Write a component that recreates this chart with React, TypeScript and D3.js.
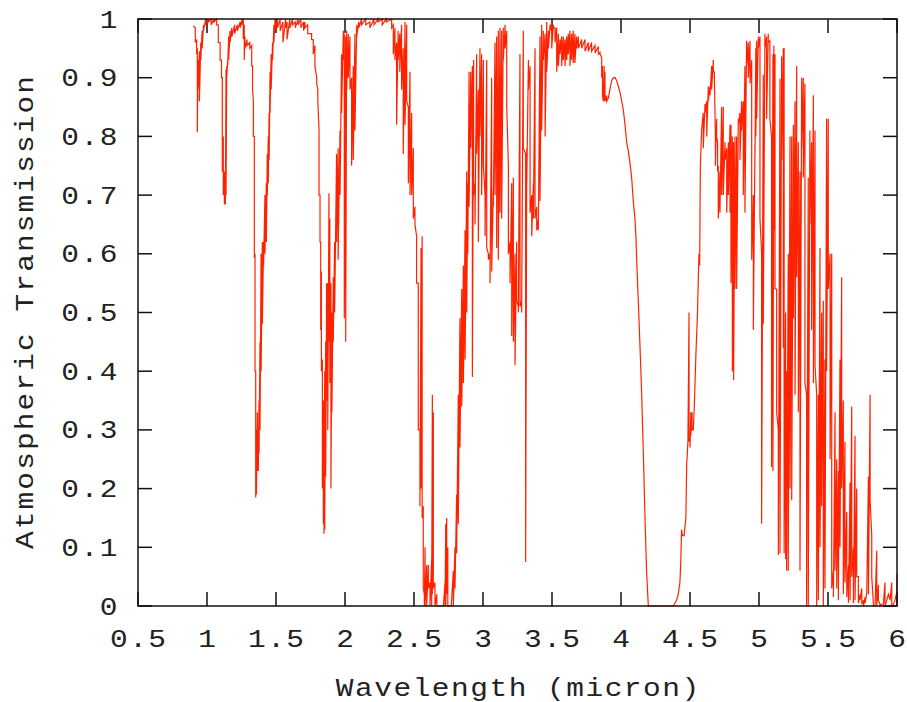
import React from "react";
import * as d3 from "d3";

// [wavelength (micron), max transmission, min transmission] per sample
const band1: [number, number, number][] = [
  [0.901, 0.988, 0.988], [0.915, 0.985, 0.96], [0.925, 0.965, 0.94], [0.93, 0.95, 0.807],
  [0.935, 0.93, 0.88], [0.945, 0.945, 0.86], [0.955, 0.96, 0.93], [0.965, 0.98, 0.95],
  [0.975, 0.99, 0.98], [0.99, 1.0, 0.99], [1.01, 1.0, 0.995], [1.03, 1.0, 0.99],
  [1.05, 1.0, 0.995], [1.07, 1.0, 0.99], [1.082, 0.99, 0.96], [1.095, 0.96, 0.93],
  [1.105, 0.93, 0.9], [1.111, 0.9, 0.74], [1.118, 0.8, 0.7], [1.126, 0.74, 0.684],
  [1.133, 0.72, 0.684], [1.138, 0.914, 0.7], [1.143, 0.92, 0.9], [1.15, 0.93, 0.92],
  [1.157, 0.97, 0.93], [1.167, 0.98, 0.96], [1.18, 0.985, 0.97], [1.2, 0.99, 0.975],
  [1.22, 0.99, 0.98], [1.24, 0.995, 0.985], [1.255, 1.0, 0.99], [1.263, 1.0, 0.966],
  [1.27, 0.99, 0.93], [1.275, 0.97, 0.95], [1.29, 0.965, 0.955], [1.31, 0.96, 0.95],
  [1.324, 0.955, 0.92], [1.33, 0.92, 0.88], [1.336, 0.86, 0.8], [1.343, 0.8, 0.593],
  [1.348, 0.6, 0.4], [1.353, 0.4, 0.185], [1.358, 0.3, 0.19], [1.365, 0.33, 0.23],
  [1.372, 0.3, 0.23], [1.377, 0.35, 0.26], [1.384, 0.45, 0.3], [1.392, 0.6, 0.4],
  [1.401, 0.62, 0.48], [1.41, 0.62, 0.58], [1.42, 0.7, 0.6], [1.43, 0.72, 0.62],
  [1.437, 0.77, 0.7], [1.444, 0.8, 0.72], [1.45, 0.84, 0.76], [1.457, 0.91, 0.84],
  [1.465, 0.94, 0.88], [1.475, 0.96, 0.93], [1.485, 0.99, 0.96], [1.493, 1.0, 0.98],
  [1.51, 1.0, 0.985], [1.53, 1.0, 0.98], [1.55, 0.995, 0.96], [1.57, 1.0, 0.985],
  [1.58, 0.995, 0.965], [1.6, 1.0, 0.985], [1.62, 1.0, 0.99], [1.64, 0.995, 0.985],
  [1.66, 1.0, 0.99], [1.68, 1.0, 0.985], [1.7, 0.995, 0.98],
];

const band2: [number, number, number][] = [
  [1.71, 0.995, 0.985], [1.73, 0.99, 0.975], [1.758, 0.975, 0.965], [1.77, 0.965, 0.94],
  [1.782, 0.955, 0.92], [1.795, 0.9, 0.89], [1.803, 0.88, 0.86], [1.812, 0.81, 0.7],
  [1.819, 0.7, 0.62], [1.824, 0.62, 0.47], [1.829, 0.57, 0.4], [1.836, 0.42, 0.2],
  [1.843, 0.35, 0.14], [1.848, 0.3, 0.123], [1.853, 0.4, 0.13], [1.86, 0.45, 0.22],
  [1.867, 0.55, 0.35], [1.875, 0.55, 0.3], [1.884, 0.703, 0.45], [1.89, 0.66, 0.38],
  [1.898, 0.55, 0.2], [1.905, 0.5, 0.33], [1.915, 0.56, 0.45], [1.925, 0.62, 0.5],
  [1.939, 0.77, 0.62], [1.95, 0.78, 0.59], [1.964, 0.81, 0.7], [1.975, 0.94, 0.84],
  [1.988, 0.98, 0.93], [1.995, 0.975, 0.49], [2.005, 0.97, 0.45], [2.012, 0.98, 0.88],
  [2.024, 0.975, 0.9], [2.036, 0.97, 0.88], [2.048, 0.9, 0.75], [2.06, 0.92, 0.76],
  [2.072, 0.975, 0.81], [2.085, 0.99, 0.97], [2.1, 0.995, 0.985], [2.12, 1.0, 0.99],
  [2.15, 1.0, 0.99], [2.18, 0.995, 0.985], [2.21, 1.0, 0.99], [2.24, 1.0, 0.995],
  [2.27, 1.0, 0.99], [2.3, 1.0, 0.995], [2.338, 1.0, 0.985], [2.35, 0.99, 0.94],
  [2.362, 0.985, 0.93], [2.374, 0.96, 0.82], [2.385, 0.98, 0.93], [2.397, 0.975, 0.91],
  [2.41, 0.99, 0.88], [2.422, 0.95, 0.77], [2.435, 0.995, 0.82], [2.447, 0.99, 0.86],
  [2.459, 0.85, 0.72], [2.471, 0.91, 0.7], [2.483, 0.84, 0.7], [2.495, 0.78, 0.66],
  [2.507, 0.68, 0.65], [2.519, 0.63, 0.55], [2.531, 0.55, 0.3], [2.543, 0.3, 0.17],
  [2.551, 0.61, 0.2], [2.559, 0.63, 0.15], [2.567, 0.17, 0.03], [2.575, 0.02, 0.0],
];

const band3: [number, number, number][] = [
  [2.58, 0.1, 0.0], [2.592, 0.07, 0.0], [2.604, 0.07, 0.03], [2.616, 0.04, 0.0],
  [2.628, 0.08, 0.0], [2.633, 0.36, 0.02], [2.64, 0.33, 0.03], [2.652, 0.04, 0.0],
  [2.665, 0.02, 0.0], [2.677, 0.0, 0.0], [2.69, 0.0, 0.0], [2.713, 0.0, 0.0],
  [2.725, 0.04, 0.0], [2.73, 0.14, 0.0], [2.737, 0.15, 0.02], [2.745, 0.1, 0.0],
  [2.754, 0.0, 0.0], [2.77, 0.0, 0.0], [2.785, 0.06, 0.0], [2.797, 0.1, 0.03],
  [2.809, 0.19, 0.09], [2.821, 0.36, 0.14], [2.833, 0.49, 0.27], [2.846, 0.54, 0.34],
  [2.858, 0.58, 0.38], [2.87, 0.64, 0.42], [2.882, 0.74, 0.5], [2.89, 0.72, 0.6],
  [2.899, 0.91, 0.68], [2.911, 0.91, 0.78], [2.923, 0.92, 0.39], [2.932, 0.93, 0.7],
  [2.942, 0.72, 0.65], [2.954, 0.94, 0.77], [2.966, 0.88, 0.62], [2.978, 0.95, 0.8],
  [2.99, 0.94, 0.7], [3.003, 0.93, 0.75], [3.015, 0.7, 0.63], [3.027, 0.93, 0.61],
  [3.039, 0.6, 0.59], [3.051, 0.6, 0.55], [3.063, 0.9, 0.57], [3.075, 0.71, 0.68],
  [3.087, 0.96, 0.7], [3.099, 0.97, 0.61], [3.111, 0.98, 0.59], [3.123, 0.985, 0.67],
  [3.135, 0.98, 0.66], [3.147, 0.985, 0.93], [3.16, 0.99, 0.95], [3.172, 0.98, 0.85],
  [3.184, 0.75, 0.6], [3.196, 0.62, 0.55], [3.208, 0.72, 0.46], [3.22, 0.73, 0.45],
  [3.232, 0.6, 0.41], [3.244, 0.62, 0.52], [3.256, 0.51, 0.5], [3.268, 0.94, 0.51],
  [3.28, 0.52, 0.5], [3.292, 0.98, 0.78], [3.309, 0.77, 0.075], [3.317, 0.78, 0.72],
  [3.329, 0.93, 0.88], [3.341, 0.92, 0.67], [3.353, 0.7, 0.63], [3.365, 0.72, 0.66],
  [3.377, 0.95, 0.66], [3.389, 0.68, 0.64], [3.401, 0.66, 0.64], [3.413, 0.97, 0.69],
  [3.425, 0.99, 0.81], [3.437, 0.98, 0.93], [3.45, 0.975, 0.8], [3.462, 0.995, 0.91],
  [3.474, 0.98, 0.95], [3.486, 0.99, 0.98], [3.498, 0.995, 0.95], [3.51, 0.99, 0.985],
  [3.522, 0.985, 0.96], [3.534, 0.985, 0.91], [3.546, 0.975, 0.92], [3.558, 0.965, 0.94],
  [3.57, 0.97, 0.92], [3.582, 0.97, 0.93], [3.594, 0.965, 0.92], [3.606, 0.97, 0.93],
  [3.618, 0.975, 0.94], [3.63, 0.98, 0.92], [3.642, 0.975, 0.93], [3.654, 0.98, 0.925],
  [3.666, 0.975, 0.925], [3.678, 0.97, 0.95], [3.691, 0.97, 0.95], [3.715, 0.965, 0.95],
  [3.739, 0.965, 0.945], [3.763, 0.96, 0.945], [3.787, 0.96, 0.945], [3.812, 0.955, 0.942],
  [3.836, 0.953, 0.94], [3.848, 0.943, 0.94], [3.86, 0.935, 0.9], [3.866, 0.92, 0.87],
  [3.872, 0.86, 0.86], [3.878, 0.92, 0.86], [3.884, 0.91, 0.86], [3.896, 0.87, 0.86],
  [3.908, 0.865, 0.865], [3.92, 0.88, 0.88], [3.932, 0.895, 0.895], [3.945, 0.9, 0.9],
  [3.957, 0.9, 0.9], [3.969, 0.895, 0.895], [3.981, 0.885, 0.885], [3.993, 0.875, 0.875],
  [4.005, 0.86, 0.86], [4.017, 0.845, 0.845], [4.029, 0.82, 0.82], [4.041, 0.79, 0.79],
  [4.053, 0.775, 0.775], [4.065, 0.755, 0.755], [4.077, 0.73, 0.73], [4.089, 0.69, 0.69],
  [4.101, 0.66, 0.66], [4.108, 0.63, 0.63], [4.115, 0.58, 0.58], [4.126, 0.515, 0.515],
  [4.138, 0.44, 0.44], [4.15, 0.36, 0.36], [4.162, 0.26, 0.26], [4.174, 0.15, 0.15],
  [4.186, 0.055, 0.055], [4.198, 0.0, 0.0], [4.3, 0.0, 0.0],
];

const band4: [number, number, number][] = [
  [4.379, 0.0, 0.0], [4.391, 0.005, 0.005], [4.403, 0.01, 0.01], [4.415, 0.02, 0.02],
  [4.427, 0.04, 0.04], [4.433, 0.075, 0.075], [4.439, 0.13, 0.13], [4.445, 0.12, 0.12],
  [4.457, 0.12, 0.12], [4.47, 0.15, 0.15], [4.476, 0.24, 0.24], [4.485, 0.28, 0.28],
  [4.493, 0.5, 0.28], [4.5, 0.29, 0.27], [4.506, 0.33, 0.29], [4.515, 0.33, 0.3],
  [4.524, 0.3, 0.3], [4.531, 0.34, 0.34], [4.543, 0.43, 0.43], [4.553, 0.49, 0.49],
  [4.565, 0.6, 0.6], [4.57, 0.58, 0.58], [4.575, 0.75, 0.75], [4.584, 0.81, 0.81],
  [4.596, 0.84, 0.78], [4.609, 0.855, 0.84], [4.621, 0.86, 0.8], [4.633, 0.885, 0.86],
  [4.645, 0.885, 0.87], [4.657, 0.92, 0.88], [4.669, 0.93, 0.91], [4.676, 0.91, 0.91],
  [4.684, 0.8, 0.75], [4.693, 0.83, 0.8], [4.7, 0.79, 0.74], [4.705, 0.75, 0.66],
  [4.717, 0.74, 0.67], [4.729, 0.85, 0.7], [4.741, 0.85, 0.7], [4.754, 0.79, 0.76],
  [4.766, 0.78, 0.67], [4.778, 0.79, 0.7], [4.79, 0.82, 0.67], [4.797, 0.82, 0.55],
  [4.807, 0.8, 0.4], [4.816, 0.79, 0.385], [4.826, 0.8, 0.54], [4.838, 0.8, 0.54],
  [4.85, 0.83, 0.82], [4.862, 0.84, 0.76], [4.874, 0.86, 0.81], [4.886, 0.86, 0.7],
  [4.898, 0.92, 0.67], [4.91, 0.963, 0.92], [4.922, 0.96, 0.9], [4.935, 0.963, 0.89],
  [4.947, 0.93, 0.59], [4.959, 0.7, 0.47], [4.971, 0.787, 0.77], [4.977, 0.95, 0.8],
  [4.983, 0.963, 0.83], [4.995, 0.97, 0.95], [5.007, 0.97, 0.66], [5.019, 0.6, 0.14],
  [5.031, 0.905, 0.48], [5.043, 0.975, 0.95], [5.055, 0.97, 0.83], [5.067, 0.975, 0.96],
  [5.079, 0.963, 0.83], [5.091, 0.8, 0.237], [5.101, 0.94, 0.23], [5.108, 0.955, 0.64],
  [5.116, 0.94, 0.54], [5.128, 0.54, 0.33], [5.14, 0.3, 0.087], [5.152, 0.898, 0.09],
  [5.164, 0.936, 0.76], [5.176, 0.95, 0.44], [5.182, 0.95, 0.09], [5.193, 0.5, 0.08],
  [5.2, 0.4, 0.06], [5.212, 0.6, 0.06], [5.225, 0.8, 0.2], [5.237, 0.8, 0.18],
  [5.249, 0.82, 0.49], [5.261, 0.86, 0.36], [5.273, 0.92, 0.56], [5.285, 0.79, 0.33],
  [5.297, 0.74, 0.06], [5.309, 0.9, 0.78], [5.321, 0.9, 0.73], [5.333, 0.89, 0.38],
  [5.345, 0.36, 0.0], [5.357, 0.73, 0.0], [5.369, 0.81, 0.65], [5.381, 0.79, 0.47],
  [5.394, 0.87, 0.38], [5.406, 0.81, 0.41], [5.418, 0.36, 0.0], [5.43, 0.36, 0.01],
  [5.442, 0.61, 0.1], [5.454, 0.5, 0.17], [5.466, 0.52, 0.0], [5.478, 0.42, 0.03],
  [5.49, 0.83, 0.4], [5.502, 0.83, 0.54], [5.515, 0.6, 0.25], [5.527, 0.6, 0.03],
  [5.539, 0.06, 0.015], [5.551, 0.33, 0.06], [5.563, 0.25, 0.03], [5.575, 0.23, 0.01],
  [5.587, 0.42, 0.1], [5.599, 0.56, 0.2], [5.611, 0.35, 0.02], [5.623, 0.28, 0.04],
  [5.636, 0.16, 0.015], [5.648, 0.07, 0.005], [5.66, 0.21, 0.01], [5.672, 0.34, 0.05],
  [5.684, 0.1, 0.005], [5.696, 0.29, 0.01], [5.708, 0.2, 0.05], [5.72, 0.05, 0.005],
  [5.732, 0.02, 0.01], [5.745, 0.03, 0.003], [5.757, 0.01, 0.0], [5.769, 0.015, 0.005],
  [5.781, 0.023, 0.023], [5.793, 0.22, 0.02], [5.805, 0.36, 0.18], [5.817, 0.12, 0.05],
  [5.829, 0.003, 0.0], [5.841, 0.0, 0.0], [5.853, 0.094, 0.0], [5.865, 0.036, 0.01],
  [5.877, 0.003, 0.0], [5.889, 0.003, 0.003], [5.901, 0.003, 0.003], [5.913, 0.04, 0.0],
  [5.926, 0.01, 0.01], [5.938, 0.02, 0.02], [5.95, 0.01, 0.01], [5.962, 0.04, 0.0],
  [5.974, 0.003, 0.003], [5.986, 0.01, 0.01], [5.998, 0.023, 0.023], [6.0, 0.055, 0.055],
];

const xTicks = [0.5, 1, 1.5, 2, 2.5, 3, 3.5, 4, 4.5, 5, 5.5, 6];
const yTicks = [0, 0.1, 0.2, 0.3, 0.4, 0.5, 0.6, 0.7, 0.8, 0.9, 1];
const xLabel = "Wavelength (micron)";
const yLabel = "Atmospheric Transmission";

const W = 907;
const H = 702;
const M = { left: 138, right: 897, top: 19, bottom: 606 };
const FONT = "'Liberation Mono', 'DejaVu Sans Mono', monospace";
const FS = 25;
const PITCH = 19.2;
const GLYPH = 15;
const SX = 1.18;

function MonoText({
  text,
  x,
  y,
  anchor,
  pitch = PITCH,
}: {
  text: string;
  x: number;
  y: number;
  anchor: "start" | "middle" | "end";
  pitch?: number;
}) {
  const n = text.length;
  const total = (n - 1) * pitch + GLYPH;
  const left = anchor === "start" ? x : anchor === "middle" ? x - total / 2 : x - total;
  const chars = text.split("");
  return (
    <g>
      {chars.map((c, i) => (
        <text
          key={i}
          transform={`translate(${left + GLYPH / 2 + i * pitch},${y}) scale(${SX},1)`}
          textAnchor="middle"
        >
          {c}
        </text>
      ))}
    </g>
  );
}

export default function App() {
  const x = d3.scaleLinear().domain([0.5, 6]).range([M.left, M.right]);
  const y = d3.scaleLinear().domain([0, 1]).range([M.bottom, M.top]);

  const pts: [number, number][] = [];
  [...band1, ...band2, ...band3, ...band4].forEach(([w, hi, lo]) => {
    pts.push([w, hi]);
    if (lo !== hi) pts.push([w, lo]);
  });
  const line = d3
    .line<[number, number]>()
    .x((d) => x(d[0]))
    .y((d) => y(d[1]));
  const pathD = line(pts) || "";
  const tl = 14;
  const fmt = (v: number) => String(v);

  return (
    <svg
      width={W}
      height={H}
      style={{ position: "absolute", left: 0, top: 0, background: "#fff" }}
    >
      <rect x={0} y={0} width={W} height={H} fill="#fff" />
      <g stroke="#111" strokeWidth={1.5} fill="none">
        {xTicks.map((t) => (
          <g key={"xt" + t}>
            <line x1={x(t)} x2={x(t)} y1={M.bottom} y2={M.bottom - tl} />
            <line x1={x(t)} x2={x(t)} y1={M.top} y2={M.top + tl} />
          </g>
        ))}
        {yTicks.map((t) => (
          <g key={"yt" + t}>
            <line x1={M.left} x2={M.left + tl} y1={y(t)} y2={y(t)} />
            <line x1={M.right} x2={M.right - tl} y1={y(t)} y2={y(t)} />
          </g>
        ))}
      </g>
      <path d={pathD} fill="none" stroke="#ff2200" strokeWidth={1.2} strokeLinejoin="miter" />
      <rect
        x={M.left}
        y={M.top}
        width={M.right - M.left}
        height={M.bottom - M.top}
        fill="none"
        stroke="#111"
        strokeWidth={1.5}
      />
      <g fontFamily={FONT} fontSize={FS} fill="#222">
        {xTicks.map((t) => (
          <MonoText key={"xl" + t} text={fmt(t)} x={x(t)} y={647} anchor="middle" />
        ))}
        {yTicks.map((t) => (
          <MonoText key={"yl" + t} text={fmt(t)} x={116} y={y(t) + 8.5} anchor="end" />
        ))}
        <MonoText text={xLabel} x={(M.left + M.right) / 2} y={696} anchor="middle" />
        <g transform={`translate(33, ${(M.top + M.bottom) / 2}) rotate(-90)`}>
          <MonoText text={yLabel} x={0} y={0} anchor="middle" pitch={19.8} />
        </g>
      </g>
    </svg>
  );
}
